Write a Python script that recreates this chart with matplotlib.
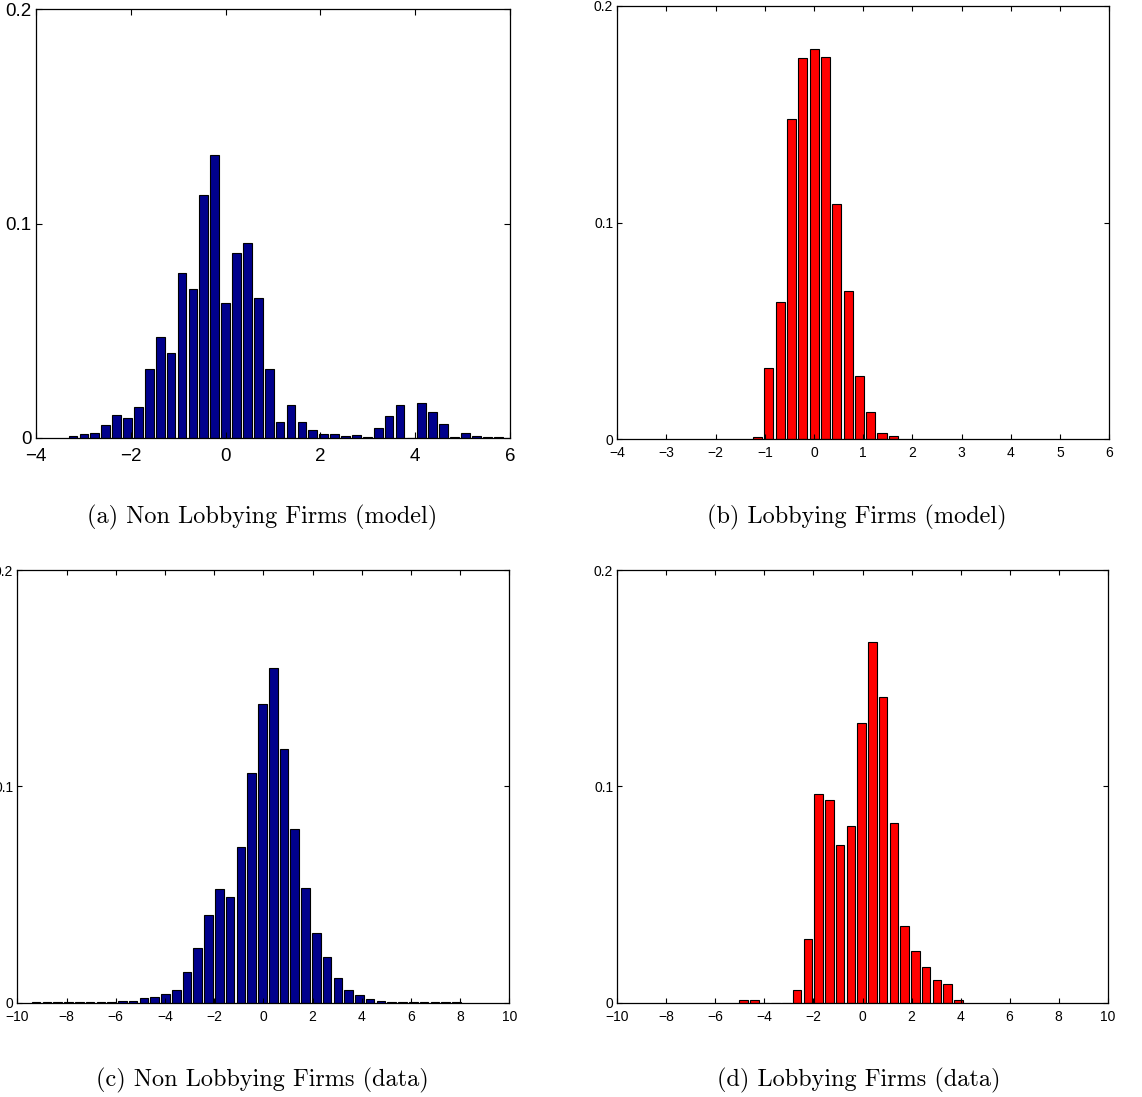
import numpy as np
import matplotlib
matplotlib.use("Agg")
import matplotlib.pyplot as plt

# ---- histogram data -------------------------------------------------------
# model histograms: bin width 0.23, bins centred on multiples of the width
model_bin = 0.23
nl_model_k = np.arange(-14, 26)
nl_model = [0.0006, 0.0019, 0.0022, 0.0059, 0.0107, 0.0093, 0.0145, 0.0322, 0.0472, 0.0394,
            0.0769, 0.0696, 0.1131, 0.1319, 0.0631, 0.0864, 0.0911, 0.0654, 0.0322, 0.0072,
            0.0154, 0.0073, 0.0036, 0.0019, 0.0016, 0.0009, 0.0014, 0.0003, 0.0045, 0.0101,
            0.0154, 0.0000, 0.0164, 0.0120, 0.0062, 0.0002, 0.0022, 0.0006, 0.0002, 0.0002]

lob_model_k = np.arange(-5, 8)
lob_model = [0.0009, 0.0331, 0.0631, 0.1477, 0.1760, 0.1800, 0.1763, 0.1085, 0.0686,
             0.0291, 0.0125, 0.0028, 0.0014]

# data histograms: bin width 0.438, offset slightly below zero
data_bin = 0.438
data_offset = -0.035
nl_data_k = np.arange(-21, 19)
nl_data = [0.0002, 0.0002, 0.0001, 0.0001, 0.0001, 0.0002, 0.0005, 0.0002, 0.0007, 0.0007,
           0.0020, 0.0026, 0.0038, 0.0058, 0.0143, 0.0251, 0.0404, 0.0524, 0.0488, 0.0720,
           0.1060, 0.1382, 0.1545, 0.1171, 0.0804, 0.0529, 0.0320, 0.0213, 0.0114, 0.0057,
           0.0035, 0.0016, 0.0010, 0.0005, 0.0003, 0.0002, 0.0001, 0.0001, 0.0001, 0.0001]

lob_data_k = np.arange(-11, 10)
lob_data = [0.0012, 0.0012, 0.0, 0.0, 0.0, 0.0057, 0.0296, 0.0965, 0.0937, 0.0727,
            0.0818, 0.1294, 0.1667, 0.1414, 0.0832, 0.0356, 0.0237, 0.0163, 0.0103,
            0.0088, 0.0012]

y_ticks = [0, 0.1, 0.2]
y_tick_labels = ["0", "0.1", "0.2"]

captions = ["(a) Non Lobbying Firms (model)", "(b) Lobbying Firms (model)",
            "(c) Non Lobbying Firms (data)", "(d) Lobbying Firms (data)"]

BLUE = (0.0, 0.0, 0.55)
RED = (1.0, 0.0, 0.0)

W, H = 1142, 1097
fig = plt.figure(figsize=(W / 100, H / 100), dpi=100)


def rect(l, r, t, b):
    return [l / W, 1 - b / H, (r - l) / W, (b - t) / H]


def panel(box, centres, heights, width, colour, xlim, xticks, fsize, ticklen, xpad):
    ax = fig.add_axes(box)
    ax.bar(centres, heights, width=0.8 * width, color=colour,
           edgecolor="black", linewidth=0.8)
    ax.set_xlim(*xlim)
    ax.set_ylim(0, 0.2)
    ax.set_xticks(xticks)
    ax.set_xticklabels([("\u2212%d" % -v) if v < 0 else "%d" % v for v in xticks])
    ax.set_yticks(y_ticks)
    ax.set_yticklabels(y_tick_labels)
    ax.tick_params(direction="in", top=True, right=True, length=ticklen,
                   width=0.8, labelsize=fsize, pad=3)
    ax.tick_params(axis="x", pad=xpad)
    for lab in ax.get_xticklabels() + ax.get_yticklabels():
        lab.set_family("Liberation Sans")
    for s in ax.spines.values():
        s.set_linewidth(0.9)
    return ax


panel(rect(36, 510, 9.3, 437.7), nl_model_k * model_bin, nl_model, model_bin,
      BLUE, (-4, 6), list(range(-4, 7, 2)), 13.5, 4, 7.5)
panel(rect(617.3, 1109.3, 5.7, 439.3), lob_model_k * model_bin, lob_model, model_bin,
      RED, (-4, 6), list(range(-4, 7, 1)), 10, 3.6, 5)
panel(rect(17.3, 509.3, 570, 1002.7), data_offset + nl_data_k * data_bin, nl_data, data_bin,
      BLUE, (-10, 10), list(range(-10, 11, 2)), 10, 3.6, 5)
panel(rect(617.3, 1107.7, 570, 1002.7), data_offset + lob_data_k * data_bin, lob_data, data_bin,
      RED, (-10, 10), list(range(-10, 11, 2)), 10, 3.6, 5)

caption_pos = [(262, 517), (857, 517), (262, 1080), (859, 1080)]
for (cx, cy), txt in zip(caption_pos, captions):
    fig.text(cx / W, 1 - cy / H, txt, ha="center", va="center",
             family="cmr10", fontsize=17.5)

fig.savefig("out.png", dpi=100)
